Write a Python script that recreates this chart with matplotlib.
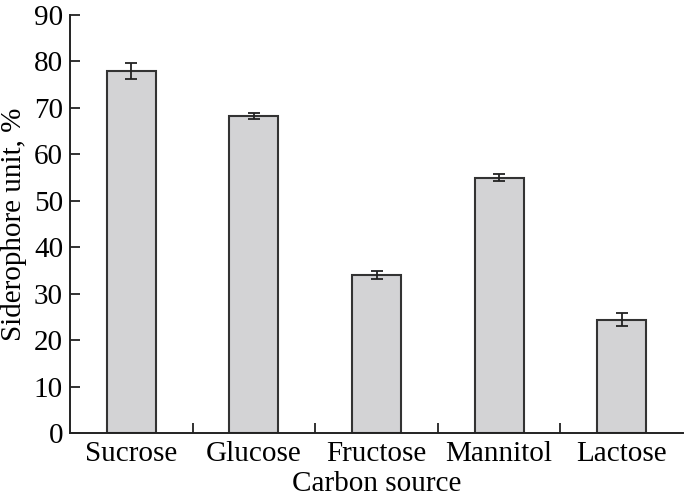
import numpy as np
import matplotlib
matplotlib.use("Agg")
import matplotlib.pyplot as plt

# data
sources = ["Sucrose", "Glucose", "Fructose", "Mannitol", "Lactose"]
siderophore = [78.0, 68.3, 34.0, 55.0, 24.4]
err = [1.7, 0.65, 0.9, 0.7, 1.4]

plt.rcParams["font.family"] = ["Liberation Serif", "DejaVu Serif"]

fig = plt.figure(figsize=(6.85, 5.01), dpi=100)
ax = fig.add_axes([70 / 685, 68 / 501, 613 / 685, 418 / 501])

x = np.arange(len(sources))
ax.bar(x, siderophore, width=0.4, color="#d3d3d5", edgecolor="#333333", linewidth=1.5,
       yerr=err, capsize=4, error_kw=dict(ecolor="#222222", elinewidth=1.3, capthick=1.3))

ax.set_xlim(-0.5, len(sources) - 0.5)
ax.set_ylim(0, 90)
ax.set_yticks(range(0, 91, 10))
ax.set_xticks(x)
ax.set_xticklabels(sources)
ax.set_xticks(np.arange(0.5, len(sources) - 1, 1), minor=True)
ax.tick_params(axis="x", which="major", length=0, labelsize=21, pad=5.5)
ax.tick_params(axis="x", which="minor", direction="in", length=7, width=1.3, color="#222222")
ax.tick_params(axis="y", direction="in", length=7, width=1.3, color="#222222", labelsize=21, pad=5)

for s in ["top", "right"]:
    ax.spines[s].set_visible(False)
for s in ["left", "bottom"]:
    ax.spines[s].set_linewidth(1.4)
    ax.spines[s].set_color("#222222")

ax.set_xlabel("Carbon source", fontsize=21, labelpad=3)
ax.set_ylabel("Siderophore unit, %", fontsize=21, labelpad=5)

fig.savefig("out.png", dpi=100)
